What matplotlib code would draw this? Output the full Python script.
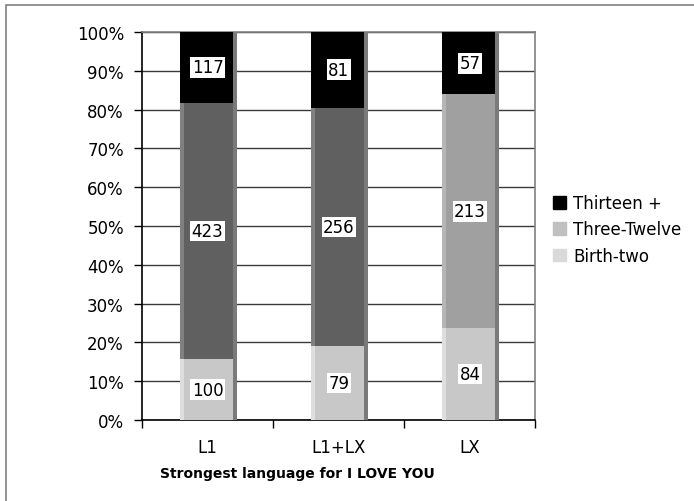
import matplotlib
matplotlib.use("Agg")
import matplotlib.pyplot as plt
from matplotlib.patches import Patch, Rectangle
import numpy as np

# Counts per age-of-acquisition group, by strongest language for "I LOVE YOU"
categories = ["L1", "L1+LX", "LX"]
birth_two = [100, 79, 84]
three_twelve = [423, 256, 213]
thirteen_plus = [117, 81, 57]
y_ticks = ["0%", "10%", "20%", "30%", "40%", "50%", "60%", "70%", "80%", "90%", "100%"]

plt.rcParams["font.family"] = ["DejaVu Sans"]
FS = 12

fig = plt.figure(figsize=(6.94, 5.02), dpi=100)
ax = fig.add_axes([0.2046, 0.1614, 0.5670, 0.7729])

# outer chart-area border
fig.patches.append(Rectangle((6 / 694, -0.05), 1.2, 1 - 6 / 502 + 0.05,
                             transform=fig.transFigure, fill=False,
                             edgecolor="#808080", lw=1.2))

counts = np.array([birth_two, three_twelve, thirteen_plus], dtype=float)
totals = counts.sum(axis=0)
shares = counts / totals * 100
x = np.arange(len(categories))

# segment colours per bar: (main, left highlight)
seg_colors = [
    [("#c8c8c8", "#dedede")] * 3,
    [("#606060", "#808080"), ("#606060", "#808080"), ("#a0a0a0", "#b6b6b6")],
    [("#000000", "#000000")] * 3,
]
shadow = "#7a7a7a"

px = 1 / 131.0
left = x - 27.5 * px
bottoms = np.zeros(len(categories))
for s in range(3):
    h = shares[s]
    for i in range(len(categories)):
        main, hi = seg_colors[s][i]
        ax.bar(left[i], h[i], width=57 * px, bottom=bottoms[i], align="edge",
               color=shadow, lw=0, zorder=3)
        ax.bar(left[i], h[i], width=53 * px, bottom=bottoms[i], align="edge",
               color=hi, lw=0, zorder=3)
        ax.bar(left[i] + 4 * px, h[i], width=49 * px, bottom=bottoms[i],
               align="edge", color=main, lw=0, zorder=3)
        ax.text(x[i], bottoms[i] + h[i] / 2, f"{int(counts[s, i])}",
                ha="center", va="center", fontsize=FS, zorder=5,
                bbox=dict(boxstyle="square,pad=0.08", fc="white", ec="none"))
    bottoms += h

ax.set_xlim(-0.5, 2.5)
ax.set_ylim(0, 100)
ax.set_yticks(np.arange(0, 101, 10))
ax.set_yticklabels(y_ticks, fontsize=FS)
ax.set_xticks([-0.5, 0.5, 1.5, 2.5])
ax.set_xticklabels([])
ax.set_xticks(x, minor=True)
ax.set_xticklabels(categories, minor=True, fontsize=FS)
ax.tick_params(axis="x", which="minor", length=0, pad=13)
ax.tick_params(axis="x", which="major", length=6, width=1, color="black")
ax.tick_params(axis="y", length=6, width=1, color="black", pad=7)

ax.yaxis.grid(True, color="#3a3a3a", lw=1)
ax.set_axisbelow(True)
for side in ["top", "right"]:
    ax.spines[side].set_color("#808080")
    ax.spines[side].set_linewidth(1.2)
for side in ["left", "bottom"]:
    ax.spines[side].set_color("black")
    ax.spines[side].set_linewidth(1.2)

fig.text(297 / 694, 1 - 474 / 502, "Strongest language for I LOVE YOU",
         fontsize=10, fontweight="bold", ha="center", va="center")

handles = [Patch(color="#000000"), Patch(color="#c0c0c0"), Patch(color="#d9d9d9")]
labels = ["Thirteen +", "Three-Twelve", "Birth-two"]
fig.legend(handles, labels, loc="center left", bbox_to_anchor=(553 / 694, 0.541),
           frameon=False, fontsize=FS, handlelength=0.8, handleheight=0.8,
           handletextpad=0.4, labelspacing=0.5, borderaxespad=0, borderpad=0)

fig.savefig("out.png", dpi=100)
